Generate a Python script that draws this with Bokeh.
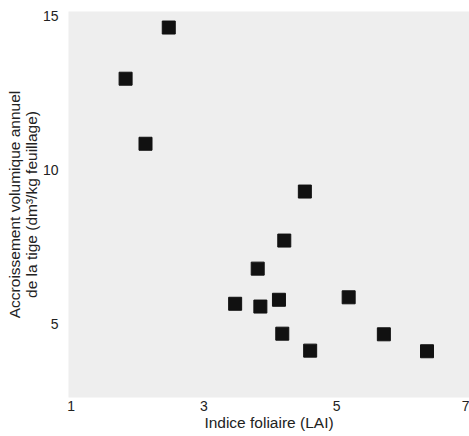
from bokeh.plotting import figure
from bokeh.models import ColumnDataSource, FixedTicker, Range1d
from bokeh.embed import file_html
from bokeh.resources import INLINE

# Data
lai = [1.82, 2.47, 2.12, 4.52, 4.21, 3.81, 3.47, 3.85, 4.13, 5.18, 4.18, 4.60, 5.71, 6.36]
accroissement = [12.95, 14.61, 10.84, 9.29, 7.70, 6.79, 5.65, 5.56, 5.78, 5.86, 4.68, 4.13, 4.66, 4.11]
x_ticks = [1, 3, 5, 7]
y_ticks = [5, 10, 15]
x_title = "Indice foliaire (LAI)"
y_title = "Accroissement volumique annuel\nde la tige (dm³/kg feuillage)"

source = ColumnDataSource(data=dict(x=lai, y=accroissement))

p = figure(width=469, height=436, output_backend="svg", toolbar_location=None,
           x_range=Range1d(0.96, 7.0), y_range=Range1d(2.61, 15.13),
           min_border_left=68, min_border_right=0, min_border_top=11, min_border_bottom=39)

p.background_fill_color = "#eeeeee"
p.border_fill_color = "white"
p.outline_line_color = None
p.grid.grid_line_color = None

p.scatter("x", "y", source=source, marker="square", size=13,
          fill_color="#111111", line_color="#111111")

font = "Liberation Sans"
for ax in (p.xaxis[0], p.yaxis[0]):
    ax.axis_line_color = None
    ax.major_tick_line_color = None
    ax.minor_tick_line_color = None
    ax.major_tick_out = 0
    ax.major_tick_in = 0
    ax.major_label_text_font = font
    ax.major_label_text_font_size = "14px"
    ax.major_label_text_color = "#222222"
    ax.axis_label_text_font = font
    ax.axis_label_text_font_size = "15.5px"
    ax.axis_label_text_font_style = "normal"
    ax.axis_label_text_color = "#222222"

p.xaxis[0].ticker = FixedTicker(ticks=x_ticks)
p.yaxis[0].ticker = FixedTicker(ticks=y_ticks)
p.xaxis[0].axis_label = x_title
p.yaxis[0].axis_label = y_title
p.xaxis[0].major_label_standoff = 3
p.xaxis[0].axis_label_standoff = 0
p.yaxis[0].major_label_standoff = 10
p.yaxis[0].axis_label_standoff = 0
p.yaxis[0].axis_label_text_line_height = 1.0

open("out.html", "w").write(file_html(p, INLINE))
